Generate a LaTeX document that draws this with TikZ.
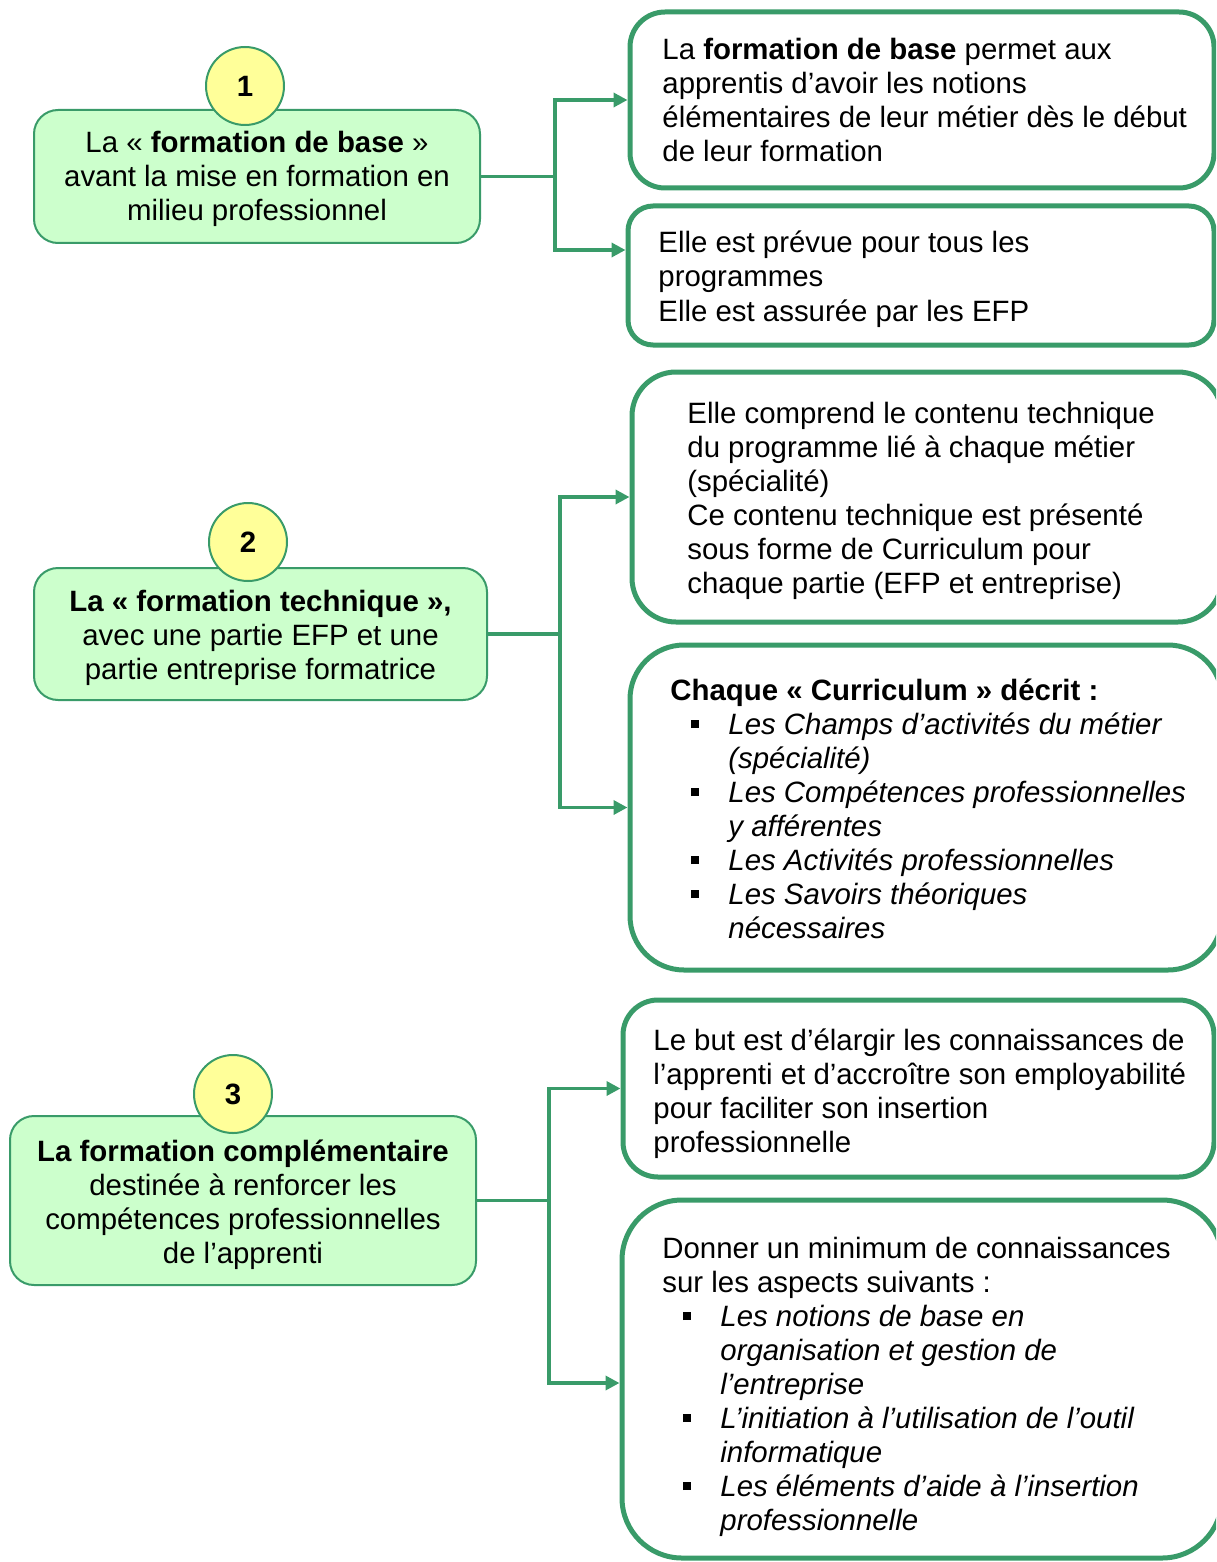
\documentclass[tikz,border=0pt]{standalone}
\usepackage{fontspec}
\setmainfont{Liberation Sans}
\usetikzlibrary{arrows.meta}
\definecolor{gline}{RGB}{57,155,105}
\definecolor{gfill}{RGB}{204,255,204}
\definecolor{yfill}{RGB}{255,255,153}
\newcommand{\myfs}{\fontsize{14.7}{17}\selectfont}
\newcommand{\mybul}{\rule[3pt]{4pt}{4pt}}
\newcommand{\myitm}[1]{\\\hspace*{10.5pt}\makebox[18.5pt][l]{\mybul}{\itshape #1}}
\newcommand{\mycont}[1]{\\\hspace*{29pt}{\itshape #1}}
\begin{document}
\begin{tikzpicture}[x=0.5pt,y=-0.5pt,
  lbox/.style={draw=gline,line width=1pt,fill=gfill,rounded corners=12pt,inner sep=0pt},
  rbox/.style={draw=gline,line width=2.5pt,fill=white,inner sep=0pt},
  num/.style={circle,draw=gline,line width=1pt,fill=yfill,minimum size=39pt,inner sep=0pt,font=\myfs\bfseries},
  txt/.style={inner sep=0pt,anchor=base west,font=\myfs},
  ctxt/.style={inner sep=0pt,anchor=base,font=\myfs},
  conn/.style={draw=gline,line width=1.9pt},
  arr/.style={conn,-{Triangle[length=7pt,width=7pt]}}]
\useasboundingbox (0,0) rectangle (1216,1562);
\clip (0,0) rectangle (1216,1562);

% ---------- section 1
\node[lbox,minimum width=223pt,minimum height=66.5pt] (L1) at (257,176.5) {};
\node[num] (C1) at (245,86) {1};
\node[ctxt] (T1) at (257,153) {\parbox[t]{225pt}{\centering La «~\textbf{formation de base}~»\\avant la mise en formation en\\milieu professionnel}};

\node[rbox,rounded corners=17.5pt,minimum width=292pt,minimum height=88pt] (R1a) at (922,100) {};
\node[txt] (TR1a) at (662,60) {\parbox[t]{280pt}{\raggedright La \textbf{formation de base} permet aux\\apprentis d’avoir les notions\\élémentaires de leur métier dès le début\\de leur formation}};

\node[rbox,rounded corners=12.5pt,minimum width=293pt,minimum height=69.5pt] (R1b) at (921,275.5) {};
\node[txt] (TR1b) at (658,253) {\parbox[t]{280pt}{\raggedright Elle est prévue pour tous les\\programmes\\Elle est assurée par les EFP}};

\coordinate (J1) at (555,176.5);
\draw[conn] (L1.east) -- (J1);
\draw[arr] (J1) |- (R1a.west);
\draw[arr] (J1) |- ([yshift=12.75pt]R1b.west);

% ---------- section 2
\node[lbox,minimum width=226.5pt,minimum height=66pt] (L2) at (260.5,634) {};
\node[num] (C2) at (248,542) {2};
\node[ctxt] (T2) at (260.5,611) {\parbox[t]{226pt}{\centering \textbf{La «~formation technique~»,}\\avec une partie EFP et une\\partie entreprise formatrice}};

\node[rbox,rounded corners=22pt,minimum width=295pt,minimum height=125pt] (R2a) at (927,497) {};
\node[txt] (TR2a) at (687,423) {\parbox[t]{260pt}{\raggedright Elle comprend le contenu technique\\du programme lié à chaque métier\\(spécialité)\\Ce contenu technique est présenté\\sous forme de Curriculum pour\\chaque partie (EFP et entreprise)}};

\node[rbox,rounded corners=27pt,minimum width=296pt,minimum height=162.5pt] (R2b) at (926,807.5) {};
\node[txt] (TR2b) at (670,700) {\parbox[t]{290pt}{\raggedright \textbf{Chaque «~Curriculum~» décrit :}%
\myitm{Les Champs d’activités du métier}\mycont{(spécialité)}%
\myitm{Les Compétences professionnelles}\mycont{y afférentes}%
\myitm{Les Activités professionnelles}%
\myitm{Les Savoirs théoriques}\mycont{nécessaires}}};

\coordinate (J2) at (560,634);
\draw[conn] (L2.east) -- (J2);
\draw[arr] (J2) |- (R2a.west);
\draw[arr] (J2) |- (R2b.west);

% ---------- section 3
\node[lbox,minimum width=233pt,minimum height=84.5pt] (L3) at (243,1200.5) {};
\node[num] (C3) at (233,1094) {3};
\node[ctxt] (T3) at (243,1161) {\parbox[t]{233pt}{\centering \textbf{La formation complémentaire}\\destinée à renforcer les\\compétences professionnelles\\de l’apprenti}};

\node[rbox,rounded corners=17.5pt,minimum width=295.5pt,minimum height=88.5pt] (R3a) at (918.5,1088.5) {};
\node[txt] (TR3a) at (653,1050) {\parbox[t]{285pt}{\raggedright Le but est d’élargir les connaissances de\\l’apprenti et d’accroître son employabilité\\pour faciliter son insertion\\professionnelle}};

\node[rbox,rounded corners=30pt,minimum width=300pt,minimum height=179pt] (R3b) at (922,1379) {};
\node[txt] (TR3b) at (662,1258) {\parbox[t]{290pt}{\raggedright Donner un minimum de connaissances\\sur les aspects suivants :%
\myitm{Les notions de base en}\mycont{organisation et gestion de}\mycont{l’entreprise}%
\myitm{L’initiation à l’utilisation de l’outil}\mycont{informatique}%
\myitm{Les éléments d’aide à l’insertion}\mycont{professionnelle}}};

\coordinate (J3) at (549,1200.5);
\draw[conn] (L3.east) -- (J3);
\draw[arr] (J3) |- (R3a.west);
\draw[arr] (J3) |- ([yshift=-2pt]R3b.west);
\end{tikzpicture}
\end{document}
